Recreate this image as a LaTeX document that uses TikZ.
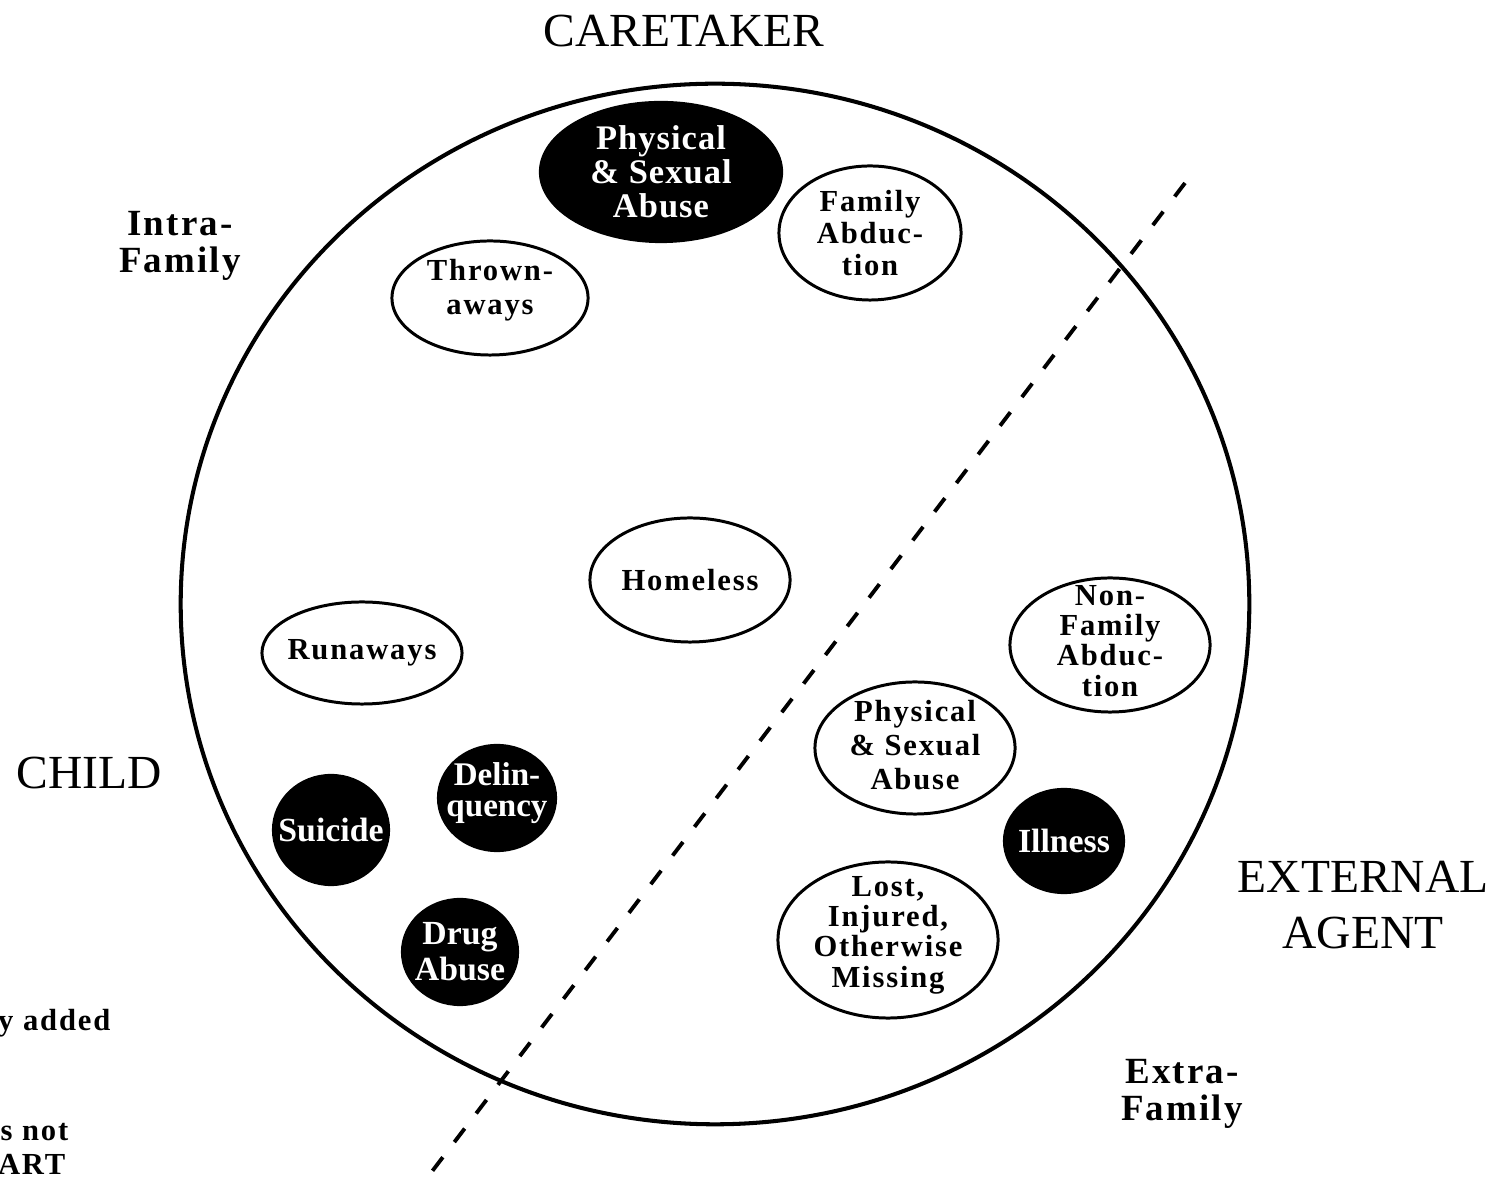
\documentclass[tikz,border=0pt]{standalone}
\usepackage{fontspec}
\setmainfont{Liberation Serif}
\usepackage{tikz}
\usetikzlibrary{shapes.geometric}

\newcommand{\ovaltype}{\fontsize{8.7}{9.2}\selectfont\bfseries\addfontfeature{LetterSpace=6}}
\newcommand{\tightovaltype}{\fontsize{8.7}{8.6}\selectfont\bfseries\addfontfeature{LetterSpace=6}}
\newcommand{\darktype}{\fontsize{9.6}{9.7}\selectfont\bfseries}
\newcommand{\zonetype}{\fontsize{10.5}{10.5}\selectfont\bfseries\addfontfeature{LetterSpace=6}}

\tikzset{
  ring/.style={
    ellipse, draw=black, line width=1.15pt, inner sep=0pt
  },
  lightoval/.style={
    ellipse, draw=black, fill=white, line width=0.85pt, inner sep=0pt
  },
  darkoval/.style={
    ellipse, draw=black, fill=black, line width=0.6pt, inner sep=0pt
  },
  ovaltext/.style={align=center, font=\ovaltype, text=black, inner sep=0pt},
  darktext/.style={align=center, font=\darktype, text=white, inner sep=0pt},
  rolelabel/.style={align=center, font=\fontsize{13.5}{15.7}\selectfont},
  zonelabel/.style={align=center, font=\zonetype},
  notetext/.style={font=\ovaltype, inner sep=0pt},
  divider/.style={line width=1.1pt, dash pattern=on 0.17cm off 0.19cm}
}

\begin{document}
\begin{tikzpicture}[x=0.01cm, y=-0.01cm]

  \useasboundingbox (0,0) rectangle (1491,1177);

  % the big circle
  \node[ring, minimum width=10.68cm, minimum height=10.40cm] (world) at (715,604) {};

  % split between intra- and extra-family
  \coordinate (cuttop) at (1185,183);
  \coordinate (cutbot) at (427,1178);
  \draw[divider] (cuttop) -- (cutbot);

  % ovals
  \node[darkoval,  minimum width=2.42cm, minimum height=1.40cm] (abusein) at (661,172) {};
  \node[lightoval, minimum width=1.82cm, minimum height=1.34cm] (famabd)  at (870,233) {};
  \node[lightoval, minimum width=1.96cm, minimum height=1.14cm] (thrown)  at (490,298) {};
  \node[lightoval, minimum width=2.00cm, minimum height=1.24cm] (homeless) at (690,580) {};
  \node[lightoval, minimum width=2.00cm, minimum height=1.02cm] (runaways) at (362,653) {};
  \node[lightoval, minimum width=2.00cm, minimum height=1.34cm] (nonfam)  at (1110,645) {};
  \node[lightoval, minimum width=2.00cm, minimum height=1.32cm] (abuseout) at (915,748) {};
  \node[darkoval,  minimum width=1.20cm, minimum height=1.04cm] (illness) at (1064,841) {};
  \node[lightoval, minimum width=2.20cm, minimum height=1.56cm] (lost)    at (888,940) {};
  \node[darkoval,  minimum width=1.18cm, minimum height=1.06cm] (delinq)  at (497,798) {};
  \node[darkoval,  minimum width=1.16cm, minimum height=1.10cm] (suicide) at (331,830) {};
  \node[darkoval,  minimum width=1.16cm, minimum height=1.06cm] (drug)    at (460,952) {};

  % oval texts
  \node[darktext, font=\fontsize{9.8}{9.7}\selectfont\bfseries\addfontfeature{LetterSpace=3}]
    (abuseintxt) at (abusein) {Physical\\\& Sexual\\Abuse};
  \node[ovaltext] (famabdtxt)   at (famabd)   {Family\\Abduc-\\tion};
  \node[ovaltext, font=\fontsize{8.7}{9.6}\selectfont\bfseries\addfontfeature{LetterSpace=6},
        yshift=0.08cm] (throwntxt) at (thrown) {Thrown-\\aways};
  \node[ovaltext] (homelesstxt) at (homeless) {Homeless};
  \node[ovaltext] (runawaystxt) at (runaways) {Runaways};
  \node[ovaltext, font=\tightovaltype, yshift=0.04cm] (nonfamtxt) at (nonfam) {Non-\\Family\\Abduc-\\tion};
  \node[ovaltext, font=\fontsize{8.7}{9.6}\selectfont\bfseries\addfontfeature{LetterSpace=6},
        yshift=0.03cm] (abuseouttxt) at (abuseout) {Physical\\\& Sexual\\Abuse};
  \node[darktext] (illnesstxt)  at (illness)  {Illness};
  \node[ovaltext, font=\tightovaltype, yshift=0.05cm] (losttxt) at (lost) {Lost,\\Injured,\\Otherwise\\Missing};
  \node[darktext, font=\fontsize{9.4}{8.8}\selectfont\bfseries, yshift=0.05cm] (delinqtxt) at (delinq) {Delin-\\quency};
  \node[darktext] (suicidetxt)  at (suicide)  {Suicide};
  \node[darktext, font=\fontsize{9.6}{10.2}\selectfont\bfseries] (drugtxt) at (drug) {Drug\\Abuse};

  % role and zone labels
  \node[rolelabel] (caretaker) at (684,31)   {CARETAKER};
  \node[rolelabel] (child)     at (89,773)   {CHILD};
  \node[rolelabel] (external)  at (1363,905) {EXTERNAL\\AGENT};
  \node[zonelabel] (intra)     at (180,246)  {Intra-\\Family};
  \node[zonelabel] (extra)     at (1182,1094) {Extra-\\Family};

  % cut-off note at the lower left
  \node[notetext, anchor=base east] (note1) at (111,1031) {y added};
  \node[notetext, anchor=base east] (note2) at (69,1140)  {s not};
  \node[notetext, anchor=base east] (note3) at (66,1174)  {ART};

\end{tikzpicture}
\end{document}
